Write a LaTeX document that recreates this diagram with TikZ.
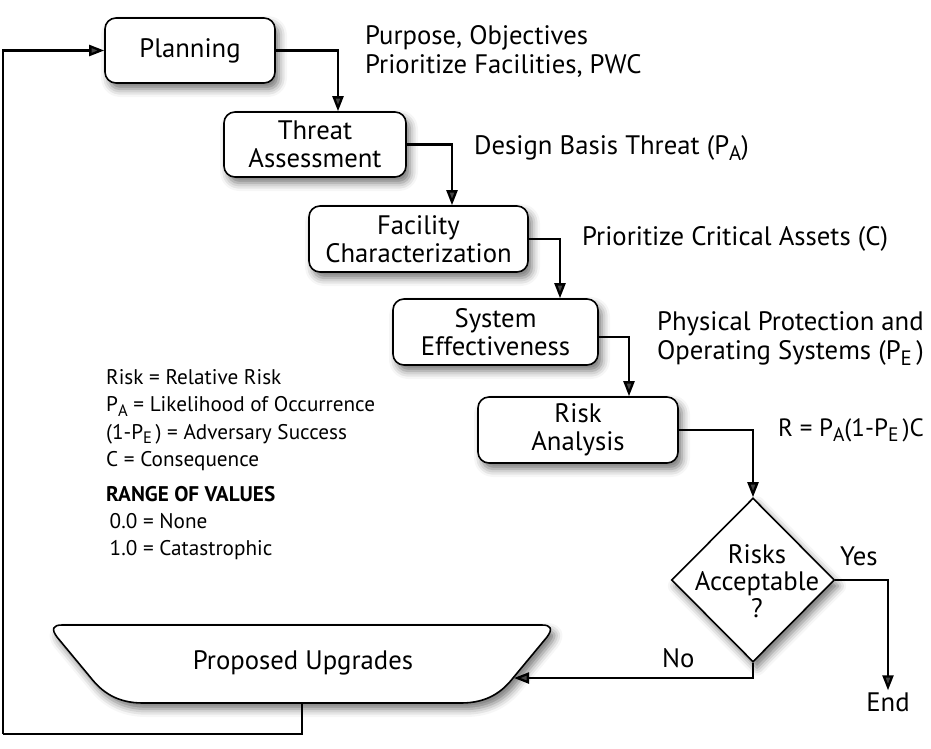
\documentclass[tikz,border=0pt]{standalone}
\usepackage{fontspec}
\usepackage{graphicx}
\setmainfont{PT Sans}
\usetikzlibrary{arrows.meta,shapes.geometric,shadows.blur}
\newcommand{\psub}[1]{\raisebox{-0.45ex}{\scalebox{0.78}{#1}}}

\begin{document}
\begin{tikzpicture}[x=1pt, y=-1pt,
  softshadow/.style={blur shadow={shadow xshift=4pt, shadow yshift=-6pt, shadow blur radius=8pt, shadow opacity=55}},
  stage/.style={draw, line width=1.6pt, rounded corners=11pt, fill=white, align=center, inner sep=0pt,
    font=\fontsize{26.7}{28}\selectfont, softshadow},
  decision/.style={diamond, draw, line width=1.6pt, fill=white, minimum width=163pt, minimum height=164pt,
    inner sep=0pt, softshadow},
  flow/.style={line width=2.3pt, -{Triangle[length=15pt,width=11pt]}},
  note/.style={align=left, anchor=west, inner sep=0pt, font=\fontsize{26.7}{29}\selectfont},
  legend/.style={align=left, anchor=west, inner sep=0pt, font=\fontsize{21.2}{27.3}\selectfont}]
\useasboundingbox (0,0) rectangle (931,748);

% process boxes
\node[stage, minimum width=170pt, minimum height=65pt] (plan) at (190,50.5) {Planning};
\node[stage, minimum width=182pt, minimum height=65pt] (thr) at (315,144.5) {Threat\\Assessment};
\node[stage, minimum width=219pt, minimum height=66pt] (fac) at (418.5,239) {Facility\\Characterization};
\node[stage, minimum width=205pt, minimum height=66pt] (sys) at (495.5,332) {System\\Effectiveness};
\node[stage, minimum width=200pt, minimum height=66pt] (risk) at (578,430) {Risk\\Analysis};

% decision
\node[decision] (dec) at (753,580) {};
\node[align=center, inner sep=0pt, font=\fontsize{26.7}{27}\selectfont] (decq) at (757,581) {Risks\\Acceptable\\?};

% upgrades
\draw[line width=1.6pt, fill=white, softshadow]
  (143,703) -- (461,703) .. controls (487,703) and (502,692) .. (513,678)
  -- (547,637) .. controls (553,629) and (551,625) .. (542,625)
  -- (62,625) .. controls (53,625) and (51,629) .. (57,637)
  -- (91,678) .. controls (102,692) and (117,703) .. (143,703) -- cycle;
\node[inner sep=0pt, font=\fontsize{26.7}{28}\selectfont] (upg) at (303,663) {Proposed Upgrades};
\coordinate (upgR) at (514,678);
\coordinate (upgB) at (302,703);
\coordinate (loopA) at (3,734);
\node[inner sep=2pt, font=\fontsize{26.7}{28}\selectfont] (fin) at (888,702) {End};

% notes
\node[note] (n1) at (365,51) {Purpose, Objectives\\Prioritize Facilities, PWC};
\node[note] (n2) at (474,148) {Design Basis Threat (P\psub{A})};
\node[note] (n3) at (582,239) {Prioritize Critical Assets (C)};
\node[note] (n4) at (657,339) {Physical Protection and\\Operating Systems (P\psub{E}\,)};
\node[note, font=\fontsize{25}{28}\selectfont] (n5) at (778,430) {R = P\psub{A}(1-P\psub{E}\,)C};
\node[note] (yes) at (840,556) {Yes};
\node[note] (no) at (662,658) {No};

% legend
\node[legend] (lg) at (106,420) {Risk = Relative Risk\\P\psub{A} = Likelihood of Occurrence\\(1-P\psub{E}\,) = Adversary Success\\C = Consequence};
\node[legend] (rg) at (106,523) {\textbf{RANGE OF VALUES}\\\,0.0 = None\\\,1.0 = Catastrophic};

% connectors
\draw[flow] (plan.east) -| ([xshift=23pt]thr.north);
\draw[flow] (thr.east) -| ([xshift=33.5pt]fac.north);
\draw[flow] (fac.east) -| ([xshift=64.5pt]sys.north);
\draw[flow] ([yshift=-5pt]sys.east) -| ([xshift=51pt]risk.north);
\draw[flow] (risk.east) -| (dec.north);
\draw[flow] (dec.east) -| (fin.north);
\draw[flow] (dec.south) |- (upgR);
\draw[line width=2.3pt] (upgB) |- (loopA);
\draw[flow] (loopA) |- (plan.west);
\end{tikzpicture}
\end{document}
